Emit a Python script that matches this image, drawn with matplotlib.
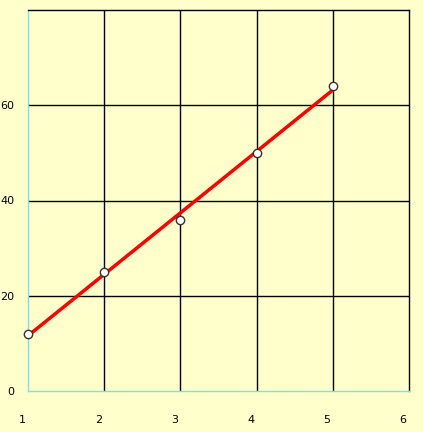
import matplotlib
matplotlib.use("Agg")
import matplotlib.pyplot as plt
import matplotlib.transforms as mtransforms
import numpy as np

x_vals = [1, 2, 3, 4, 5]
y_vals = [12, 25, 36, 50, 64]
x_ticks = [1, 2, 3, 4, 5, 6]
y_ticks = [0, 20, 40, 60]

bg = "#FFFFCC"
W, H = 423, 432
fig = plt.figure(figsize=(W / 100, H / 100), dpi=100, facecolor=bg)
ax = fig.add_axes([28 / W, (H - 391) / H, 381 / W, 381 / H], facecolor=bg)
ax.set_xlim(1, 6)
ax.set_ylim(0, 80)

for xv in x_ticks[1:-1]:
    ax.axvline(xv, color="black", lw=1, zorder=1)
for yv in y_ticks[1:]:
    ax.axhline(yv, color="black", lw=1, zorder=1)

coef = np.polyfit(x_vals, y_vals, 1)
xs = np.array([min(x_vals), max(x_vals)])
ax.plot(xs, np.polyval(coef, xs), color="#FF0000", lw=2.5, zorder=3, solid_capstyle="butt")
ax.plot(x_vals, y_vals, linestyle="none", marker="o", ms=6, mfc="white", mec="#333333", mew=1, zorder=4, clip_on=False)

for s in ["left", "bottom"]:
    ax.spines[s].set_color("#80E0E0")
for s in ["top", "right"]:
    ax.spines[s].set_color("black")
for s in ax.spines.values():
    s.set_linewidth(1)

ax.set_xticks(x_ticks)
ax.set_xticklabels([str(v) for v in x_ticks])
ax.set_yticks(y_ticks)
ax.set_yticklabels([str(v) for v in y_ticks])
ax.tick_params(axis="both", length=0, labelsize=8, colors="black")
ax.tick_params(axis="x", pad=17)
ax.tick_params(axis="y", pad=10)
off = mtransforms.ScaledTranslation(-6 / 100, 0, fig.dpi_scale_trans)
for lbl in ax.get_xticklabels():
    lbl.set_transform(lbl.get_transform() + off)

fig.savefig("out.png", dpi=100, facecolor=bg)
